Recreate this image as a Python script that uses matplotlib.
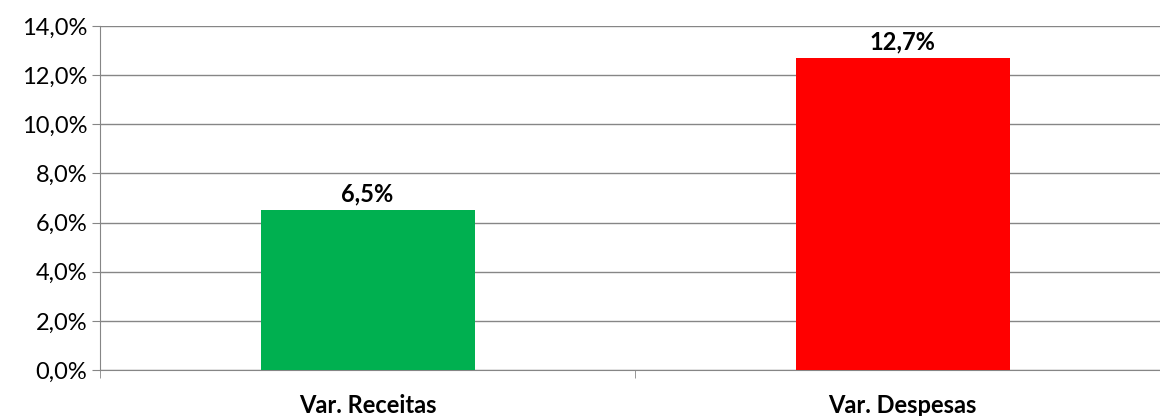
import matplotlib
matplotlib.use("Agg")
import matplotlib.pyplot as plt
from matplotlib.ticker import FuncFormatter, FixedLocator

categories = ["Var. Receitas", "Var. Despesas"]
values = [6.5, 12.7]
bar_colors = ["#00B050", "#FF0000"]
y_ticks = [0, 2, 4, 6, 8, 10, 12, 14]

plt.rcParams["font.family"] = ["Lato", "DejaVu Sans"]

fig = plt.figure(figsize=(11.6, 4.16), dpi=100)
ax = fig.add_axes([100 / 1160, 1 - 370 / 416, 1070 / 1160, 344 / 416])

x = list(range(len(categories)))
ax.bar(x, values, width=0.4, color=bar_colors, zorder=3)

for xi, v in zip(x, values):
    ax.text(xi, v + 0.2, f"{v:.1f}%".replace(".", ","), ha="center", va="bottom",
            fontsize=17, fontweight="bold", color="black")

ax.set_xlim(-0.5, len(categories) - 0.5)
ax.set_ylim(0, 14)
ax.set_yticks(y_ticks)
ax.yaxis.set_major_formatter(FuncFormatter(lambda v, p: f"{v:.1f}%".replace(".", ",")))
ax.yaxis.grid(True, color="#868686", linewidth=1, zorder=0)

ax.set_xticks(x)
ax.set_xticklabels(categories, fontsize=17, fontweight="bold")
ax.xaxis.set_minor_locator(FixedLocator([-0.5, 0.5, 1.5]))
ax.tick_params(axis="x", which="major", length=0, pad=17)
ax.tick_params(axis="x", which="minor", length=6, color="#868686")
ax.tick_params(axis="y", length=6, color="#868686", labelsize=17, pad=3)

for s in ["top", "right"]:
    ax.spines[s].set_visible(False)
for s in ["left", "bottom"]:
    ax.spines[s].set_color("#868686")

fig.savefig("out.png", dpi=100)
